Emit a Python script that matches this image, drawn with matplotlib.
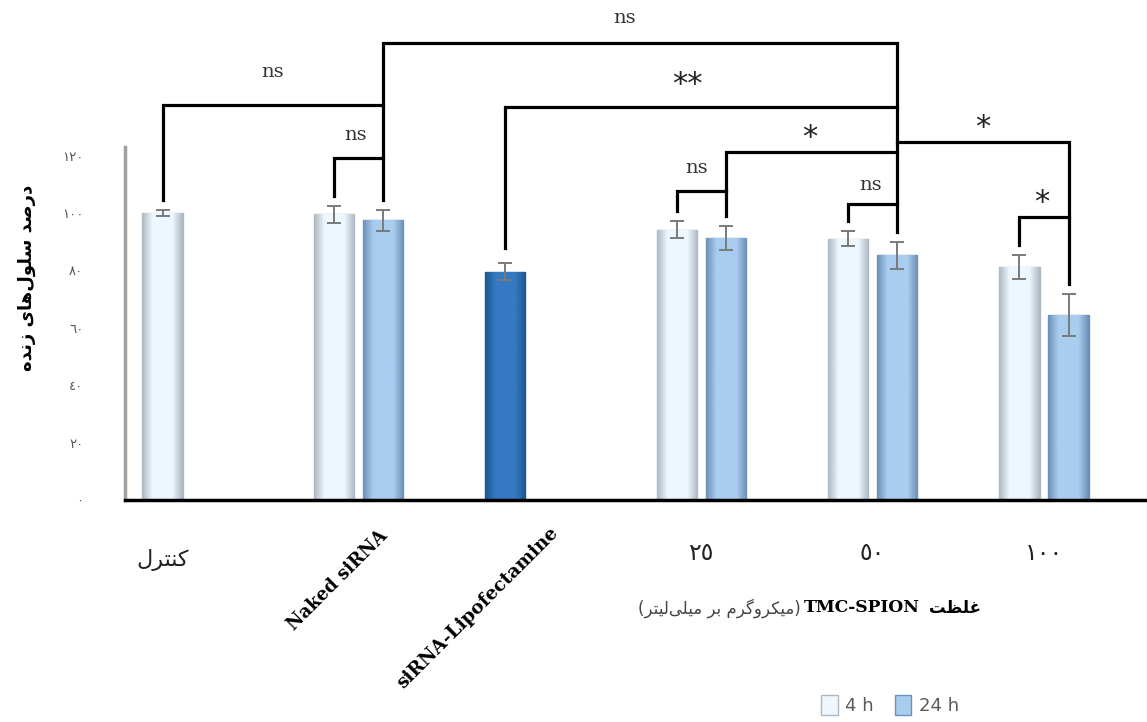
import numpy as np
import matplotlib
matplotlib.use("Agg")
import matplotlib.pyplot as plt
from matplotlib.colors import LinearSegmentedColormap
from matplotlib.patches import Patch

# data
groups = ["کنترل", "Naked siRNA", "siRNA-Lipofectamine", "٢٥", "٥٠", "١٠٠"]
val_4h = [100.0, 99.5, np.nan, 94.2, 91.1, 81.2]
err_4h = [1.2, 3.0, np.nan, 3.0, 2.6, 4.2]
val_24h = [np.nan, 97.5, np.nan, 91.3, 85.2, 64.5]
err_24h = [np.nan, 3.7, np.nan, 4.2, 4.7, 7.3]
lipo_val = [79.5]
lipo_err = [3.0]
y_ticks = [0, 20, 40, 60, 80, 100, 120]
y_tick_labels = ["٠", "٢٠", "٤٠", "٦٠", "٨٠", "١٠٠", "١٢٠"]
legend_labels = ["4 h", "24 h"]

C4 = ("#aeb8c3", "#eef7fe")
C24 = ("#6d90b8", "#a9cdef")
CLIPO = ("#1d578f", "#3579c2")

# minimal arabic/persian shaping (matplotlib has no RTL layout)
FORMS = {
    "ا": ("\uFE8D", "\uFE8E"), "د": ("\uFEA9", "\uFEAA"), "ر": ("\uFEAD", "\uFEAE"),
    "ز": ("\uFEAF", "\uFEB0"), "و": ("\uFEED", "\uFEEE"),
    "ب": ("\uFE8F", "\uFE90", "\uFE91", "\uFE92"), "ت": ("\uFE95", "\uFE96", "\uFE97", "\uFE98"),
    "س": ("\uFEB1", "\uFEB2", "\uFEB3", "\uFEB4"), "ص": ("\uFEB9", "\uFEBA", "\uFEBB", "\uFEBC"),
    "ظ": ("\uFEC5", "\uFEC6", "\uFEC7", "\uFEC8"), "غ": ("\uFECD", "\uFECE", "\uFECF", "\uFED0"),
    "ل": ("\uFEDD", "\uFEDE", "\uFEDF", "\uFEE0"), "م": ("\uFEE1", "\uFEE2", "\uFEE3", "\uFEE4"),
    "ن": ("\uFEE5", "\uFEE6", "\uFEE7", "\uFEE8"), "ه": ("\uFEE9", "\uFEEA", "\uFEEB", "\uFEEC"),
    "ک": ("\uFB8E", "\uFB8F", "\uFB90", "\uFB91"), "گ": ("\uFB92", "\uFB93", "\uFB94", "\uFB95"),
    "ی": ("\uFBFC", "\uFBFD", "\uFBFE", "\uFBFF"),
}


def shape(text):
    out = []
    for i, c in enumerate(text):
        if c not in FORMS:
            out.append(c)
            continue
        prev = text[i - 1] if i > 0 else None
        nxt = text[i + 1] if i + 1 < len(text) else None
        jp = prev in FORMS and len(FORMS[prev]) == 4
        jn = len(FORMS[c]) == 4 and nxt in FORMS
        f = FORMS[c]
        if jp and jn:
            out.append(f[3])
        elif jp:
            out.append(f[1])
        elif jn:
            out.append(f[2])
        else:
            out.append(f[0])
    return "".join(out).replace("\u200c", "")[::-1]


def shade(ax, bars, colors):
    cmap = LinearSegmentedColormap.from_list("cyl", [colors[0], colors[1], colors[1], colors[1], colors[0]])
    grad = np.linspace(0, 1, 64)[None, :]
    for b in bars:
        h = b.get_height()
        if np.isnan(h):
            continue
        x0, w = b.get_x(), b.get_width()
        im = ax.imshow(grad, cmap=cmap, extent=(x0, x0 + w, 0, h), aspect="auto", zorder=2,
                       interpolation="bilinear")
        im.set_clip_path(b)


fig = plt.figure(figsize=(11.47, 7.22), dpi=100)
ax = fig.add_axes([0.109, 0.3075, 0.891, 0.4889])

x = np.arange(len(groups))
off = 0.143
bw = 0.235
x4 = x - off
x24 = x + off

b4 = ax.bar(x4, val_4h, bw, color=C4[1], edgecolor=C4[0], linewidth=1.0, zorder=1)
b24 = ax.bar(x24, val_24h, bw, color=C24[1], edgecolor=C24[0], linewidth=1.0, zorder=1)
bl = ax.bar(x4[2:3], lipo_val, bw, color=CLIPO[1], edgecolor=CLIPO[0], linewidth=1.0, zorder=1)
shade(ax, b4, C4)
shade(ax, b24, C24)
shade(ax, bl, CLIPO)

ekw = dict(fmt="none", ecolor="#7a7a7a", elinewidth=1.4, capsize=5, capthick=1.4, zorder=4)
ax.errorbar(x4, val_4h, yerr=err_4h, **ekw)
ax.errorbar(x24, val_24h, yerr=err_24h, **ekw)
ax.errorbar(x4[2:3], lipo_val, yerr=lipo_err, **ekw)

ax.set_xlim(-0.362, 5.601)
ax.set_ylim(0, 123)

# significance brackets
gap = 3.5
t4 = [v + e + gap for v, e in zip(val_4h, err_4h)]
t24 = [v + e + gap for v, e in zip(val_24h, err_24h)]
tl = lipo_val[0] + lipo_err[0] + 5.3
hub = x24[4]


def bracket(xs, ys):
    ax.plot(xs, ys, color="black", lw=2.3, clip_on=False, zorder=5, solid_joinstyle="miter")


bracket([x4[0], x4[0], x24[1]], [t4[0], 137.6, 137.6])
bracket([x4[1], x4[1], x24[1]], [t4[1], 119.2, 119.2])
bracket([x24[1], x24[1], hub, hub], [t24[1], 159.2, 159.2, t24[4]])
bracket([x4[2], x4[2], hub], [tl, 137.0, 137.0])
bracket([x4[3], x4[3], x24[3]], [t4[3], 107.7, 107.7])
bracket([x24[3], x24[3], hub], [t24[3], 121.3, 121.3])
bracket([x4[4], x4[4], hub], [t4[4], 103.1, 103.1])
bracket([x4[5], x4[5], x24[5]], [t4[5], 98.6, 98.6])
bracket([x24[5], x24[5], hub], [t24[5], 124.7, 124.7])

sig = [("ns", 2.555, 167.9), ("ns", 0.50, 149.1), ("ns", 0.986, 127.2),
       ("**", 2.917, 147.4), ("*", 3.635, 128.9), ("ns", 2.975, 115.7),
       ("ns", 3.99, 109.8), ("*", 4.644, 132.4), ("*", 4.988, 106.3)]
for s, sx, sy in sig:
    if s == "ns":
        ax.text(sx, sy, s, ha="center", va="center", fontsize=14, family="DejaVu Serif",
                color="#333333", clip_on=False)
    else:
        ax.text(sx, sy - 2.5, s, ha="center", va="center", fontsize=22, family="DejaVu Sans",
                color="#222222", clip_on=False)

# axes styling
for side in ["top", "right"]:
    ax.spines[side].set_visible(False)
ax.spines["left"].set_color("#a0a0a0")
ax.spines["left"].set_linewidth(2.5)
ax.spines["bottom"].set_color("black")
ax.spines["bottom"].set_linewidth(2.5)
ax.set_yticks(y_ticks)
ax.set_yticklabels(y_tick_labels, fontsize=9.5, color="#555555", family="DejaVu Sans")
ax.tick_params(axis="y", length=0, pad=30)
ax.set_xticks([])

ax.set_ylabel(shape("درصد سلول\u200cهای زنده"), fontsize=13, fontweight="bold",
              family="DejaVu Sans")
ax.yaxis.set_label_coords(-0.087, 0.63)

# x labels
tr = ax.get_xaxis_transform()
ax.text(x4[0], -0.17, shape(groups[0]), transform=tr, ha="center", va="center", fontsize=16,
        color="#222222")
ax.text(1.155, -0.093, groups[1], transform=tr, ha="right", va="center", rotation=45,
        rotation_mode="anchor", fontsize=13, fontweight="bold", family="DejaVu Serif")
ax.text(2.147, -0.085, groups[2], transform=tr, ha="right", va="center", rotation=45,
        rotation_mode="anchor", fontsize=13.3, fontweight="bold", family="DejaVu Serif")
for i in range(3, 6):
    ax.text(x[i], -0.15, groups[i], transform=tr, ha="center", va="center", fontsize=17,
            color="#222222")

# x axis title (mixed RTL / LTR)
yl = 1 - 608 / 722
fig.text(862 / 1147, yl, "TMC-SPION", ha="center", va="center", fontsize=12.3,
         fontweight="bold", family="DejaVu Serif")
fig.text(801 / 1147, yl, "(" + shape("میکروگرم بر میلی\u200cلیتر") + ")", ha="right", va="center",
         fontsize=12, color="#444444")
fig.text(929 / 1147, yl, shape("غلظت"), ha="left", va="center", fontsize=12, fontweight="bold")

handles = [Patch(facecolor=C4[1], edgecolor=C4[0]), Patch(facecolor=C24[1], edgecolor=C24[0])]
fig.legend(handles, legend_labels, loc="center right", bbox_to_anchor=(975 / 1147, 1 - 705 / 722),
           ncol=2, frameon=False, fontsize=13, handlelength=0.9, handleheight=1.3,
           handletextpad=0.4, columnspacing=1.2, labelcolor="#5a5a5a")

fig.savefig("out.png", dpi=100)
